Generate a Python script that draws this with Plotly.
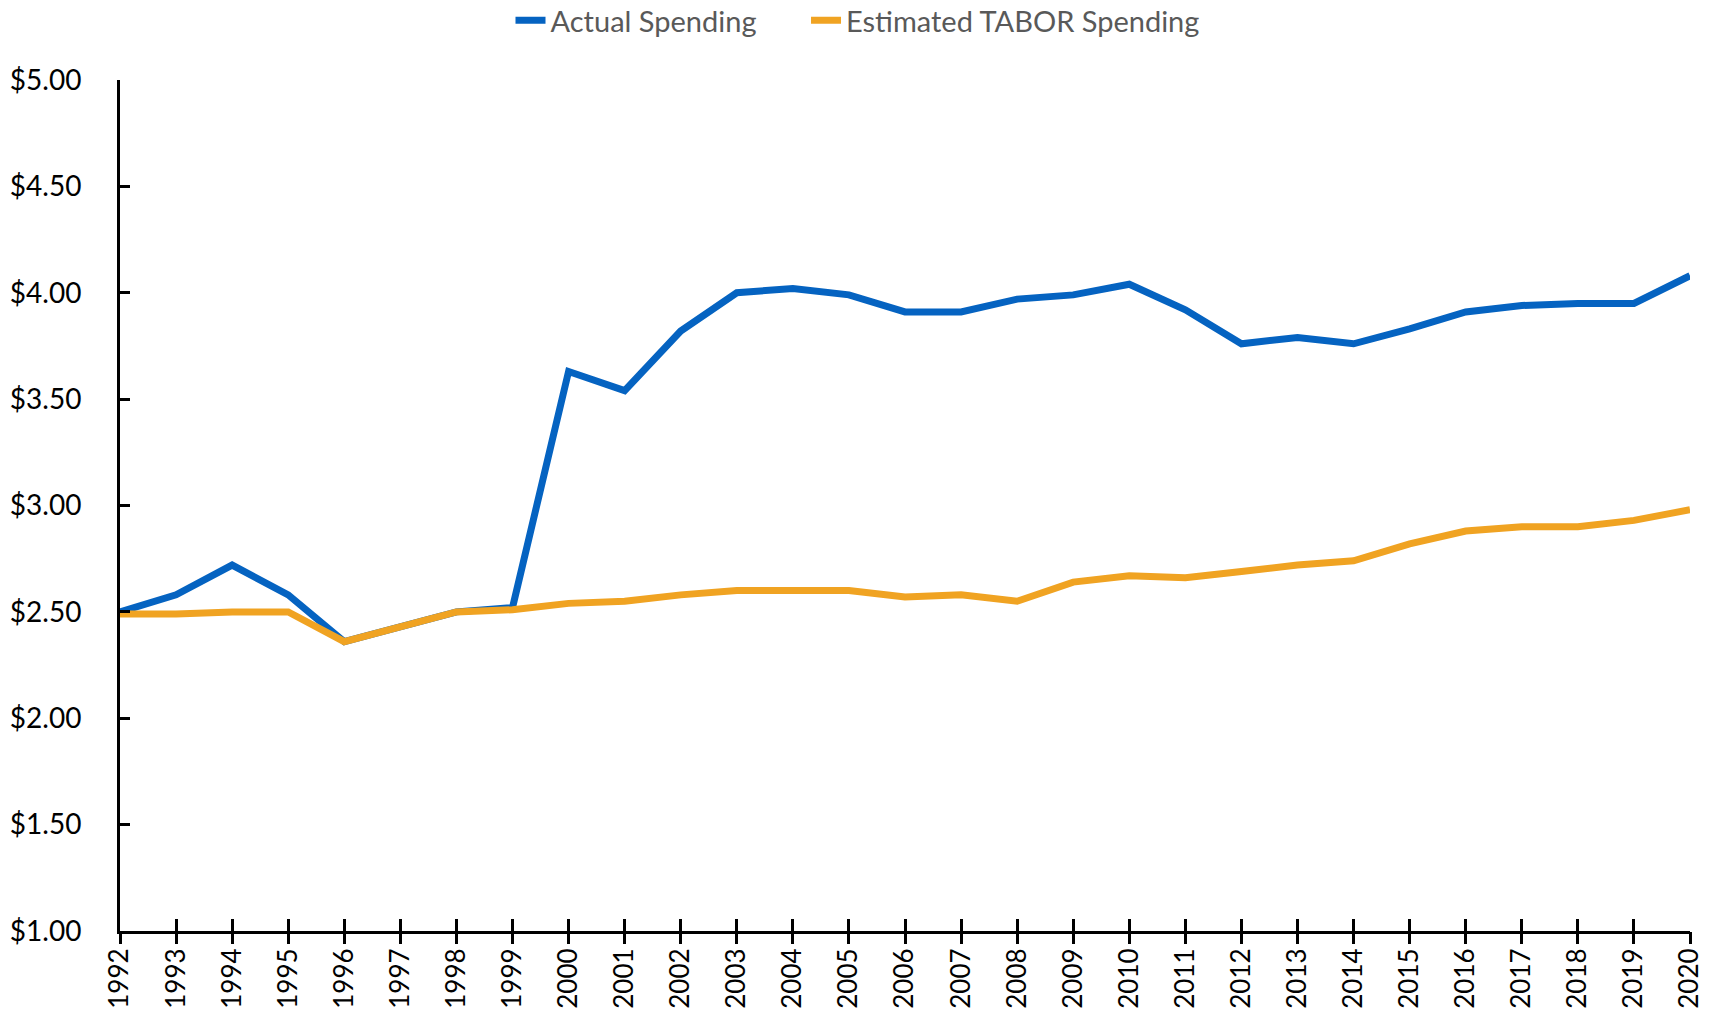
import plotly.graph_objects as go

years = list(range(1992, 2021))
actual = [2.50, 2.58, 2.72, 2.58, 2.36, 2.43, 2.50, 2.52, 3.63, 3.54,
          3.82, 4.00, 4.02, 3.99, 3.91, 3.91, 3.97, 3.99, 4.04, 3.92,
          3.76, 3.79, 3.76, 3.83, 3.91, 3.94, 3.95, 3.95, 4.08]
tabor = [2.49, 2.49, 2.50, 2.50, 2.36, 2.43, 2.50, 2.51, 2.54, 2.55,
         2.58, 2.60, 2.60, 2.60, 2.57, 2.58, 2.55, 2.64, 2.67, 2.66,
         2.69, 2.72, 2.74, 2.82, 2.88, 2.90, 2.90, 2.93, 2.98]

fig = go.Figure()
# trailing non-breaking spaces widen the gap between the two legend entries
fig.add_trace(go.Scatter(x=years, y=actual, name="Actual Spending" + "\u00a0" * 6, mode="lines",
                         line=dict(color="#0563C1", width=7)))
fig.add_trace(go.Scatter(x=years, y=tabor, name="Estimated TABOR Spending", mode="lines",
                         line=dict(color="#F0A322", width=7)))
# invisible trace on a second x axis so ticks cross the axis line
fig.add_trace(go.Scatter(x=years, y=tabor, xaxis="x2", mode="lines", showlegend=False,
                         hoverinfo="skip", line=dict(width=0), opacity=0))

fig.update_layout(
    width=1715, height=1018, template=None,
    paper_bgcolor="white", plot_bgcolor="white",
    font=dict(family="Lato", size=27, color="black"),
    margin=dict(l=120, r=25, t=80, b=87),
    showlegend=True,
    legend=dict(orientation="h", xref="container", yref="container",
                x=0.5, xanchor="center", y=0.98, yanchor="middle",
                font=dict(size=29, color="#595959"),
                tracegroupgap=0),
    xaxis=dict(range=[1992, 2020], dtick=1, tick0=1992, showgrid=False, zeroline=False,
               showline=True, linecolor="black", linewidth=3,
               ticks="inside", ticklen=12, tickwidth=3, tickcolor="black",
               tickangle=-90, tickfont=dict(size=26), ticklabelstandoff=4),
    xaxis2=dict(range=[1992, 2020], dtick=1, tick0=1992, overlaying="x", side="bottom",
                showgrid=False, zeroline=False, showline=False, showticklabels=False,
                ticks="outside", ticklen=12, tickwidth=3, tickcolor="black"),
    yaxis=dict(range=[1, 5], dtick=0.5, tickprefix="$", tickformat=".2f",
               showgrid=False, zeroline=False, showline=True, linecolor="black", linewidth=3,
               ticks="inside", ticklen=10, tickwidth=3, tickcolor="black",
               ticklabelstandoff=30, tickfont=dict(size=28)),
)

fig.write_html("out.html", config={"displayModeBar": False},
               post_script="document.body.style.margin='0';")
